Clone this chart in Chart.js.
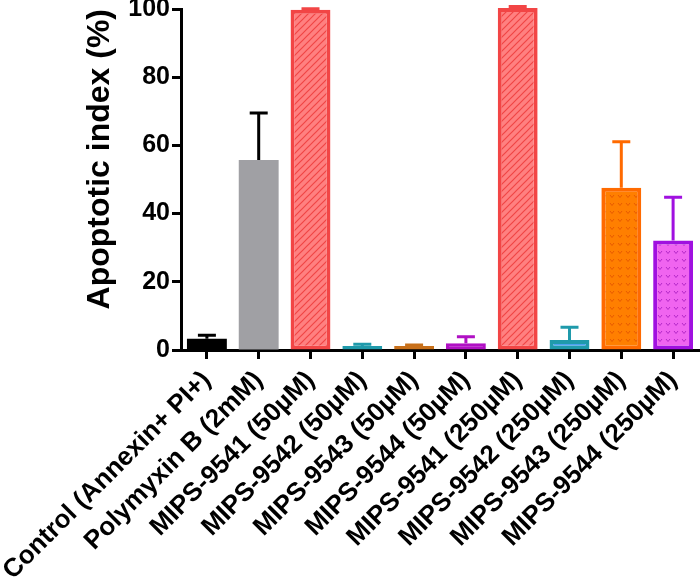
<!DOCTYPE html>
<html>
<head>
    <script src="https://cdn.jsdelivr.net/npm/chart.js"></script>
    <meta charset="UTF-8">
    <title>Apoptotic index</title>
    <style>
        html, body {
            margin: 0;
            padding: 0;
            background: #ffffff;
        }
        #wrap {
            width: 700px;
            height: 586px;
        }
    </style>
</head>
<body>
    <div id="wrap"><canvas id="chart"></canvas></div>

    <script>
        const categories = [
            "Control (Annexin+ PI+)",
            "Polymyxin B (2mM)",
            "MIPS-9541 (50µM)",
            "MIPS-9542 (50µM)",
            "MIPS-9543 (50µM)",
            "MIPS-9544 (50µM)",
            "MIPS-9541 (250µM)",
            "MIPS-9542 (250µM)",
            "MIPS-9543 (250µM)",
            "MIPS-9544 (250µM)"
        ];
        const means = [3.3, 55.7, 99.8, 1.2, 1.2, 2.0, 100.3, 2.9, 47.6, 32.1];
        const errors = [1.0, 13.8, 0.3, 0.5, 0.3, 1.9, 0.4, 3.8, 13.5, 12.7];
        const yTicks = [0, 20, 40, 60, 80, 100];

        // small repeating tiles for the patterned bars
        function makePattern(bg, fg, kind) {
            const c = document.createElement("canvas");
            const s = kind === "hatch" ? 7 : 8;
            c.width = s;
            c.height = s;
            const g = c.getContext("2d");
            g.fillStyle = bg;
            g.fillRect(0, 0, s, s);
            g.strokeStyle = fg;
            g.lineWidth = 1.2;
            if (kind === "hatch") {
                g.beginPath();
                g.moveTo(-1, s + 1); g.lineTo(s + 1, -1);
                g.moveTo(-1, 1); g.lineTo(1, -1);
                g.moveTo(s - 1, s + 1); g.lineTo(s + 1, s - 1);
                g.stroke();
            } else {
                g.lineWidth = 1;
                g.beginPath();
                g.moveTo(2, 3); g.lineTo(4, 5.5); g.lineTo(6, 3);
                g.stroke();
            }
            return g.createPattern(c, "repeat");
        }

        const redHatch = makePattern("#ff8080", "#f04545", "hatch");
        const orangeDots = makePattern("#ff7f00", "#e85a00", "dots");
        const pinkDots = makePattern("#f064f0", "#b428c8", "dots");

        const fills = ["#000000", "#a0a0a4", redHatch, "#1f9aab", "#c8701a", "#b010c4",
                       redHatch, "#4aa0f0", orangeDots, pinkDots];
        const borders = ["#000000", "#a0a0a4", "#f24545", "#1f9aab", "#c8701a", "#b010c4",
                         "#f24545", "#1f9aab", "#ff6a00", "#a010e0"];
        const errColors = ["#000000", "#000000", "#f24545", "#1f9aab", "#c8701a", "#b010c4",
                           "#f24545", "#1f9aab", "#ff6a00", "#a010e0"];

        // upward-only error bars with a cap, like GraphPad
        const errorBars = {
            id: "errorBars",
            afterDatasetsDraw(chart) {
                const ctx = chart.ctx;
                const y = chart.scales.y;
                const meta = chart.getDatasetMeta(0);
                ctx.save();
                ctx.lineWidth = 3;
                meta.data.forEach((bar, i) => {
                    const top = y.getPixelForValue(means[i]);
                    const end = y.getPixelForValue(means[i] + errors[i]);
                    ctx.strokeStyle = errColors[i];
                    ctx.beginPath();
                    ctx.moveTo(bar.x, top);
                    ctx.lineTo(bar.x, end);
                    ctx.moveTo(bar.x - 9, end);
                    ctx.lineTo(bar.x + 9, end);
                    ctx.stroke();
                });
                ctx.restore();
            }
        };

        const ctx = document.getElementById("chart").getContext("2d");
        const chart = new Chart(ctx, {
            type: "bar",
            data: {
                labels: categories,
                datasets: [{
                    data: means,
                    backgroundColor: fills,
                    borderColor: borders,
                    borderWidth: [0, 0, 4, 3, 3, 3, 4, 4, 4, 4],
                    borderSkipped: false,
                    barPercentage: 0.77,
                    categoryPercentage: 1,
                    clip: false
                }]
            },
            options: {
                responsive: true,
                maintainAspectRatio: false,
                animation: false,
                layout: { padding: { left: 0, top: 9, right: 1, bottom: 0 } },
                plugins: {
                    legend: { display: false },
                    tooltip: { enabled: false }
                },
                scales: {
                    x: {
                        offset: true,
                        afterFit(scale) {
                            scale.height = 236;
                            scale.paddingLeft = 0;
                            scale.paddingRight = 0;
                        },
                        grid: {
                            offset: false,
                            drawOnChartArea: false,
                            drawTicks: true,
                            tickLength: 9,
                            tickWidth: 3,
                            tickColor: "#000000"
                        },
                        border: { color: "#000000", width: 3 },
                        ticks: {
                            color: "#000000",
                            minRotation: 45,
                            maxRotation: 45,
                            padding: 6,
                            autoSkip: false,
                            font: { family: "Liberation Sans", size: 26, weight: "bold" }
                        }
                    },
                    y: {
                        min: 0,
                        max: 100,
                        afterBuildTicks(scale) {
                            scale.ticks = yTicks.map(v => ({ value: v }));
                        },
                        afterFit(scale) {
                            scale.width = 181;
                            scale.paddingTop = 0;
                            scale.paddingBottom = 0;
                        },
                        grid: {
                            drawOnChartArea: false,
                            tickLength: 9,
                            tickWidth: 3,
                            tickColor: "#000000"
                        },
                        border: { color: "#000000", width: 3 },
                        ticks: {
                            color: "#000000",
                            padding: 2,
                            font: { family: "Liberation Sans", size: 25, weight: "bold" }
                        },
                        title: {
                            display: true,
                            text: "Apoptotic index (%)",
                            align: "end",
                            color: "#000000",
                            padding: { top: 81, bottom: 0 },
                            font: { family: "Liberation Sans", size: 32, weight: "bold" }
                        }
                    }
                }
            },
            plugins: [errorBars]
        });
    </script>
</body>
</html>
